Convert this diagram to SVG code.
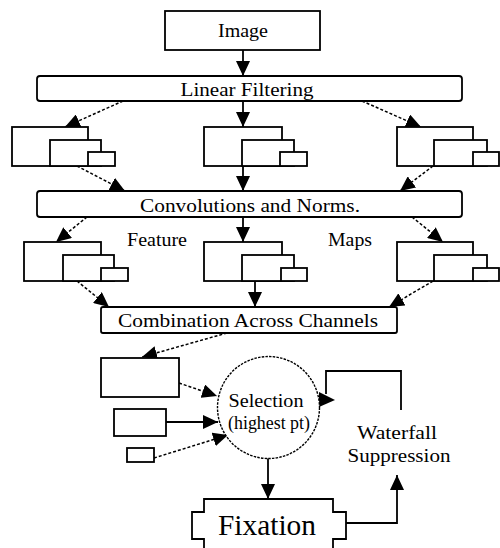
<svg xmlns="http://www.w3.org/2000/svg" width="500" height="548" viewBox="0 0 500 548">
<style>
.b{fill:#fff;stroke:#000;stroke-width:1.8}
.t{font-family:"Liberation Serif","DejaVu Serif","Times New Roman",serif;font-size:19px;fill:#000}
.s{stroke:#000;stroke-width:1.8;fill:none}
.d{stroke:#000;stroke-width:1.5;fill:none;stroke-dasharray:3,2}
</style>
<defs>
<marker id="a" markerUnits="userSpaceOnUse" markerWidth="15" markerHeight="14" refX="15" refY="7" orient="auto" viewBox="0 0 15 14">
<path d="M0,0 L15,7 L0,14 z" fill="#000"/>
</marker>
</defs>
<rect width="500" height="548" fill="#fff"/>
<g id="connectors">
<line class="s" x1="243" y1="50" x2="243" y2="76" marker-end="url(#a)"/>
<line class="d" x1="123" y1="101" x2="65" y2="127" marker-end="url(#a)"/>
<line class="s" x1="243" y1="101" x2="243" y2="127" marker-end="url(#a)"/>
<line class="d" x1="362" y1="101" x2="421" y2="127" marker-end="url(#a)"/>
<line class="d" x1="77" y1="166" x2="125" y2="191" marker-end="url(#a)"/>
<line class="s" x1="243" y1="166" x2="243" y2="191" marker-end="url(#a)"/>
<line class="d" x1="433" y1="166" x2="400" y2="191" marker-end="url(#a)"/>
<line class="d" x1="87" y1="217" x2="56" y2="242" marker-end="url(#a)"/>
<line class="s" x1="243" y1="217" x2="243" y2="242" marker-end="url(#a)"/>
<line class="d" x1="412" y1="217" x2="443" y2="242" marker-end="url(#a)"/>
<line class="d" x1="77" y1="281" x2="109" y2="307" marker-end="url(#a)"/>
<line class="s" x1="255" y1="281" x2="255" y2="307" marker-end="url(#a)"/>
<line class="d" x1="433" y1="281" x2="389" y2="307" marker-end="url(#a)"/>
<line class="d" x1="227" y1="333" x2="142" y2="357" marker-end="url(#a)"/>
<line class="d" x1="179" y1="383" x2="217" y2="396" marker-end="url(#a)"/>
<line class="s" x1="166" y1="422" x2="218" y2="422" marker-end="url(#a)"/>
<line class="d" x1="154" y1="458" x2="228" y2="435" marker-end="url(#a)"/>
<line class="s" x1="268" y1="458" x2="268" y2="499" marker-end="url(#a)"/>
<polyline class="s" points="346,523 397,523 397,475" marker-end="url(#a)"/>
<polyline class="s" points="401,410 401,371 326,371 326,394"/>
<polygon points="319,392 335,400 319,407" fill="#000"/>
</g>
<g id="image"><rect class="b" x="165" y="11" width="155" height="39"/><text class="t" x="243" y="37" text-anchor="middle" textLength="50" lengthAdjust="spacingAndGlyphs">Image</text></g>
<g id="linear-filtering"><rect class="b" x="37" y="76" width="425" height="25" rx="3"/><text class="t" x="247" y="96" text-anchor="middle" textLength="133" lengthAdjust="spacingAndGlyphs">Linear Filtering</text></g>
<g id="stack-1l"><rect class="b" x="12" y="127" width="76" height="39"/><rect class="b" x="50" y="140" width="51" height="26"/><rect class="b" x="88" y="152" width="27" height="14"/></g>
<g id="stack-1c"><rect class="b" x="204" y="127" width="78" height="39"/><rect class="b" x="242" y="140" width="52" height="26"/><rect class="b" x="280" y="152" width="27" height="14"/></g>
<g id="stack-1r"><rect class="b" x="397" y="127" width="76" height="39"/><rect class="b" x="434" y="140" width="53" height="26"/><rect class="b" x="473" y="152" width="26" height="14"/></g>
<g id="convolutions"><rect class="b" x="37" y="191" width="425" height="26" rx="3"/><text class="t" x="250" y="212" text-anchor="middle" textLength="220" lengthAdjust="spacingAndGlyphs">Convolutions and Norms.</text></g>
<g id="label-feature"><text class="t" x="127" y="246" textLength="60" lengthAdjust="spacingAndGlyphs">Feature</text></g>
<g id="label-maps"><text class="t" x="328" y="246" textLength="44" lengthAdjust="spacingAndGlyphs">Maps</text></g>
<g id="stack-2l"><rect class="b" x="24" y="242" width="77" height="39"/><rect class="b" x="63" y="255" width="51" height="26"/><rect class="b" x="101" y="268" width="27" height="13"/></g>
<g id="stack-2c"><rect class="b" x="204" y="242" width="78" height="39"/><rect class="b" x="242" y="255" width="52" height="26"/><rect class="b" x="281" y="268" width="26" height="13"/></g>
<g id="stack-2r"><rect class="b" x="397" y="242" width="76" height="39"/><rect class="b" x="434" y="255" width="53" height="26"/><rect class="b" x="473" y="268" width="26" height="13"/></g>
<g id="combination"><rect class="b" x="101" y="307" width="296" height="26" rx="2"/><text class="t" x="248" y="327" text-anchor="middle" textLength="260" lengthAdjust="spacingAndGlyphs">Combination Across Channels</text></g>
<g id="map-a"><rect class="b" x="101" y="358" width="78" height="39"/></g>
<g id="map-b"><rect class="b" x="114" y="409" width="52" height="27"/></g>
<g id="map-c"><rect class="b" x="127" y="448" width="27" height="14"/></g>
<g id="selection"><circle cx="268.5" cy="407.5" r="51" fill="#fff" stroke="#000" stroke-width="1.4" stroke-dasharray="2.5,1.2"/><text class="t" x="266" y="407" text-anchor="middle" textLength="75" lengthAdjust="spacingAndGlyphs">Selection</text><text class="t" x="269" y="429" text-anchor="middle" textLength="82" lengthAdjust="spacingAndGlyphs">(highest pt)</text></g>
<g id="waterfall"><text class="t" x="397" y="439" text-anchor="middle" textLength="80" lengthAdjust="spacingAndGlyphs">Waterfall</text><text class="t" x="399" y="462" text-anchor="middle" textLength="103" lengthAdjust="spacingAndGlyphs">Suppression</text></g>
<g id="fixation"><path class="b" d="M204,560 L204,539 L192,539 L192,512 L204,512 L204,499 L333,499 L333,512 L346,512 L346,539 L333,539 L333,560"/><text class="t" x="267" y="535" text-anchor="middle" style="font-size:30px" textLength="98" lengthAdjust="spacingAndGlyphs">Fixation</text></g>
</svg>
